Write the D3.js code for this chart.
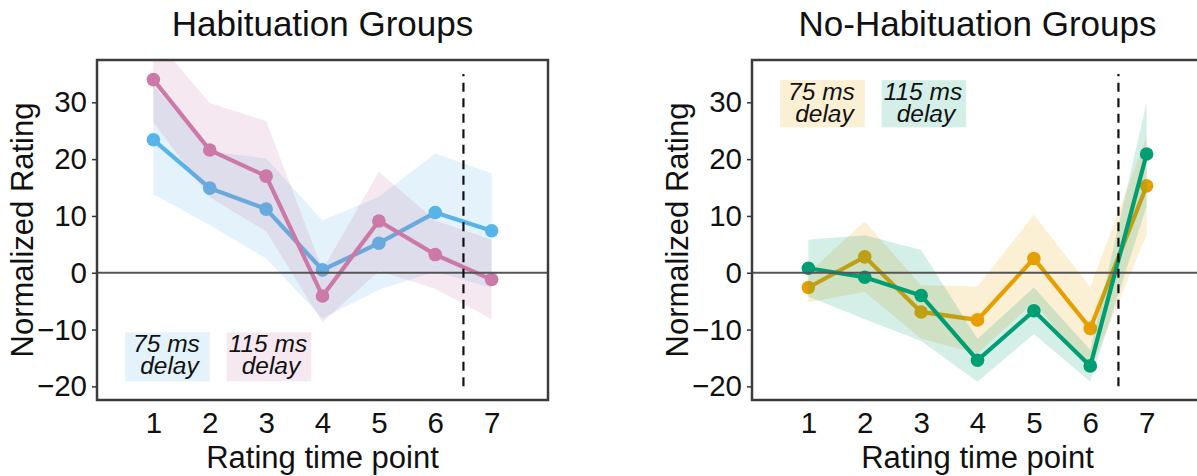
<!DOCTYPE html>
<html>
<head>
<meta charset="utf-8">
<script src="https://cdn.jsdelivr.net/npm/d3@7"></script>
<style>
  html, body { margin: 0; padding: 0; background: #fff; }
  svg { display: block; font-family: "Liberation Sans", Arial, sans-serif; }
</style>
</head>
<body>
<svg id="chart" width="1197" height="476"></svg>
<script>
// rating time points
const timePoints = [1, 2, 3, 4, 5, 6, 7];
const yTicks = [-20, -10, 0, 10, 20, 30];

// Habituation groups: mean and shaded band (lower / upper)
const hab75Mean = [23.4, 14.9, 11.2, 0.5, 5.2, 10.6, 7.4];
const hab75Lo   = [13.8, 8.4, 2.5, -8.0, -3.0, 0.2, -2.7];
const hab75Hi   = [33.0, 21.4, 20.1, 9.2, 13.4, 21.0, 17.5];
const hab115Mean = [34.0, 21.6, 17.0, -4.1, 9.1, 3.2, -1.2];
const hab115Lo   = [26.5, 13.3, 7.3, -8.7, 0.3, -2.8, -8.2];
const hab115Hi   = [41.5, 29.9, 26.7, 0.5, 17.8, 9.2, 5.8];

// No-habituation groups
const noHab75Mean = [-2.6, 2.8, -6.9, -8.3, 2.5, -9.8, 15.3];
const noHab75Lo   = [-5.2, -3.4, -11.6, -14.2, -5.2, -17.1, 6.7];
const noHab75Hi   = [0.0, 9.0, -2.2, -2.4, 10.2, -2.5, 23.9];
const noHab115Mean = [0.8, -0.8, -4.0, -15.4, -6.7, -16.4, 20.9];
const noHab115Lo   = [-4.2, -8.2, -12.0, -19.2, -10.8, -19.2, 11.7];
const noHab115Hi   = [5.8, 6.6, 4.0, -11.6, -2.6, -13.6, 30.1];

const svg = d3.select("#chart");

const W = 451, H = 340, plotTop = 60;

function rows(mean, lo, hi) {
  return timePoints.map((t, i) => ({ t, m: mean[i], lo: lo[i], hi: hi[i] }));
}

function panel(left, title, series, legendY) {
  const x = d3.scaleLinear().domain([0, 8]).range([left, left + W]);
  const y = d3.scaleLinear().domain([-22.4, 37.45]).range([plotTop + H, plotTop]);
  const id = "clip" + left;

  svg.append("clipPath").attr("id", id)
    .append("rect").attr("x", left).attr("y", plotTop).attr("width", W).attr("height", H);

  const g = svg.append("g");
  const plot = g.append("g").attr("clip-path", `url(#${id})`);

  // legend boxes (drawn under the data)
  series.forEach((s, k) => {
    const x0 = k === 0 ? 0.5 : 2.3, x1 = k === 0 ? 2.0 : 3.8;
    const lg = g.append("g");
    lg.append("rect")
      .attr("x", x(x0)).attr("y", y(legendY[1]))
      .attr("width", x(x1) - x(x0)).attr("height", y(legendY[0]) - y(legendY[1]))
      .attr("fill", s.color).attr("fill-opacity", 0.17);
    const cx = (x(x0) + x(x1)) / 2;
    const lbl = lg.append("text").attr("text-anchor", "middle").attr("font-size", 24.5)
      .attr("font-style", "italic").attr("fill", "#111");
    lbl.append("tspan").attr("x", cx - 1).attr("y", y(legendY[1]) + 19.5).text(s.label);
    lbl.append("tspan").attr("x", cx + 2).attr("y", y(legendY[1]) + 42).text("delay");
  });

  const area = d3.area().x(d => x(d.t)).y0(d => y(d.lo)).y1(d => y(d.hi));
  const line = d3.line().x(d => x(d.t)).y(d => y(d.m));

  series.forEach(s => {
    const d = rows(s.mean, s.lo, s.hi);
    plot.append("path").datum(d).attr("d", area)
      .attr("fill", s.color).attr("fill-opacity", 0.17);
    plot.append("path").datum(d).attr("d", line)
      .attr("fill", "none").attr("stroke", s.color).attr("stroke-width", 4.2);
    plot.selectAll(null).data(d).join("circle")
      .attr("cx", p => x(p.t)).attr("cy", p => y(p.m)).attr("r", 6.8)
      .attr("fill", s.color);
  });

  // zero line
  plot.append("line")
    .attr("x1", left).attr("x2", left + W).attr("y1", y(0)).attr("y2", y(0))
    .attr("stroke", "#555").attr("stroke-width", 2);

  // dashed reference between time points 6 and 7
  g.append("line")
    .attr("x1", x(6.5)).attr("x2", x(6.5)).attr("y1", y(-20)).attr("y2", y(35))
    .attr("stroke", "#111").attr("stroke-width", 2.2).attr("stroke-dasharray", "9,6.5");

  // frame
  g.append("rect").attr("x", left).attr("y", plotTop).attr("width", W).attr("height", H)
    .attr("fill", "none").attr("stroke", "#3c3c3c").attr("stroke-width", 2.5);

  // y axis
  const ya = g.append("g").attr("transform", `translate(${left - 1},0)`)
    .call(d3.axisLeft(y).tickValues(yTicks).tickSize(4).tickPadding(5).tickFormat(d3.format("d")));
  ya.select(".domain").remove();
  ya.selectAll("line").attr("stroke", "#333").attr("stroke-width", 1.5);
  ya.selectAll("text").attr("font-size", 29.5).attr("fill", "#111")
    .attr("font-family", "Liberation Sans, Arial, sans-serif");

  // x axis (labels only)
  const xa = g.append("g").attr("transform", `translate(0,${plotTop + H})`)
    .call(d3.axisBottom(x).tickValues(timePoints).tickSize(0).tickPadding(12).tickFormat(d3.format("d")));
  xa.select(".domain").remove();
  xa.selectAll("text").attr("font-size", 29.5).attr("fill", "#111")
    .attr("font-family", "Liberation Sans, Arial, sans-serif");

  g.append("text").attr("x", left + W / 2).attr("y", 468)
    .attr("text-anchor", "middle").attr("font-size", 31).attr("fill", "#111")
    .text("Rating time point");

  g.append("text").attr("transform", `translate(${left - 64},${plotTop + H / 2}) rotate(-90)`)
    .attr("text-anchor", "middle").attr("font-size", 31).attr("fill", "#111")
    .text("Normalized Rating");

  g.append("text").attr("x", left + W / 2).attr("y", 36)
    .attr("text-anchor", "middle").attr("font-size", 35).attr("fill", "#111")
    .text(title);
}

panel(97, "Habituation Groups", [
  { label: "75 ms", color: "#56B4E9", mean: hab75Mean, lo: hab75Lo, hi: hab75Hi },
  { label: "115 ms", color: "#CC79A7", mean: hab115Mean, lo: hab115Lo, hi: hab115Hi }
], [-19.1, -10.5]);

panel(752, "No-Habituation Groups", [
  { label: "75 ms", color: "#E69F00", mean: noHab75Mean, lo: noHab75Lo, hi: noHab75Hi },
  { label: "115 ms", color: "#009E73", mean: noHab115Mean, lo: noHab115Lo, hi: noHab115Hi }
], [25.6, 33.9]);
</script>
</body>
</html>
